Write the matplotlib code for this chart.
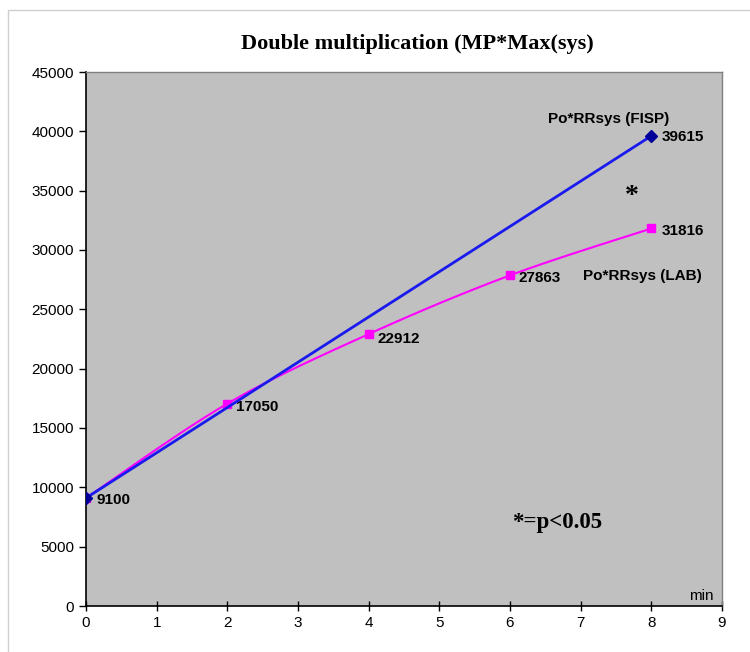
import numpy as np
import matplotlib
matplotlib.use("Agg")
import matplotlib.pyplot as plt
from matplotlib.patches import Rectangle

title = "Double multiplication (MP*Max(sys)"
fisp_x = [0, 8]
fisp_y = [9100, 39615]
lab_x = [0, 2, 4, 6, 8]
lab_y = [9100, 17050, 22912, 27863, 31816]
fisp_name = "Po*RRsys (FISP)"
lab_name = "Po*RRsys (LAB)"
xticks = list(range(0, 10))
yticks = list(range(0, 45001, 5000))


def catmull_rom(xs, ys, n=30):
    xs = np.asarray(xs, float); ys = np.asarray(ys, float)
    P = np.column_stack([xs, ys])
    P = np.vstack([P[0], P, P[-1]])
    out = []
    for i in range(1, len(P) - 2):
        p0, p1, p2, p3 = P[i - 1], P[i], P[i + 1], P[i + 2]
        t = np.linspace(0, 1, n)[:, None]
        seg = 0.5 * ((2 * p1) + (-p0 + p2) * t + (2 * p0 - 5 * p1 + 4 * p2 - p3) * t ** 2
                     + (-p0 + 3 * p1 - 3 * p2 + p3) * t ** 3)
        out.append(seg)
    out = np.vstack(out)
    return out[:, 0], out[:, 1]


fig = plt.figure(figsize=(7.5, 6.52), dpi=100)
fig.patches.append(Rectangle((8 / 750, -0.1), 1.2, 1 - 10 / 652 + 0.1, transform=fig.transFigure,
                             fill=False, edgecolor="#d0d0d0", linewidth=1))
ax = fig.add_axes([86 / 750, 1 - 606 / 652, 636 / 750, 534 / 652])
ax.set_facecolor("#c0c0c0")

sx, sy = catmull_rom(lab_x, lab_y)
ax.plot(sx, sy, color="#ff00ff", linewidth=1.5, zorder=3)
ax.plot(lab_x, lab_y, linestyle="none", marker="s", markersize=5.5, color="#ff00ff", zorder=4)
ax.plot(fisp_x, fisp_y, color="#1a1aee", linewidth=2, marker="D", markersize=6,
        markerfacecolor="#000099", markeredgecolor="#000099", zorder=5)

ax.set_xlim(0, 9)
ax.set_ylim(0, 45000)
ax.set_xticks(xticks)
ax.set_yticks(yticks)
ax.tick_params(axis="both", labelsize=11, length=5, width=1, colors="black")
ax.tick_params(axis="x", direction="inout", length=7)
for lab in ax.get_xticklabels() + ax.get_yticklabels():
    lab.set_fontfamily("Liberation Sans")
for s in ["left", "bottom"]:
    ax.spines[s].set_color("black")
    ax.spines[s].set_linewidth(1.2)
for s in ["top", "right"]:
    ax.spines[s].set_color("#808080")
    ax.spines[s].set_linewidth(1)

fig.text(417 / 750, 1 - 44 / 652, title, ha="center", va="center",
         fontsize=16, fontweight="bold", family="Liberation Serif")

bold = dict(fontsize=11, fontweight="bold", family="Liberation Sans")
# value labels for LAB
offsets = {0: (0.15, -150), 2: (0.12, -300), 4: (0.12, -400), 6: (0.12, -250), 8: (0.14, -200)}
for x, y in zip(lab_x, lab_y):
    dx, dy = offsets[x]
    ax.text(x + dx, y + dy, f"{y}", ha="left", va="center", **bold)
ax.text(fisp_x[-1] + 0.14, fisp_y[-1] - 100, f"{fisp_y[-1]}", ha="left", va="center", **bold)
ax.text(7.39, 41000, fisp_name, ha="center", va="center", **bold)
ax.text(7.88, 27800, lab_name, ha="center", va="center", **bold)
ax.text(7.73, 34500, "*", ha="center", va="center", fontsize=20, fontweight="bold",
        family="Liberation Serif")
ax.text(6.66, 7000, "*=p<0.05", ha="center", va="center", fontsize=16.5, fontweight="bold",
        family="Liberation Serif")
ax.text(8.7, 250, "min", ha="center", va="bottom", fontsize=11, family="Liberation Sans")

fig.savefig("out.png", dpi=100)
